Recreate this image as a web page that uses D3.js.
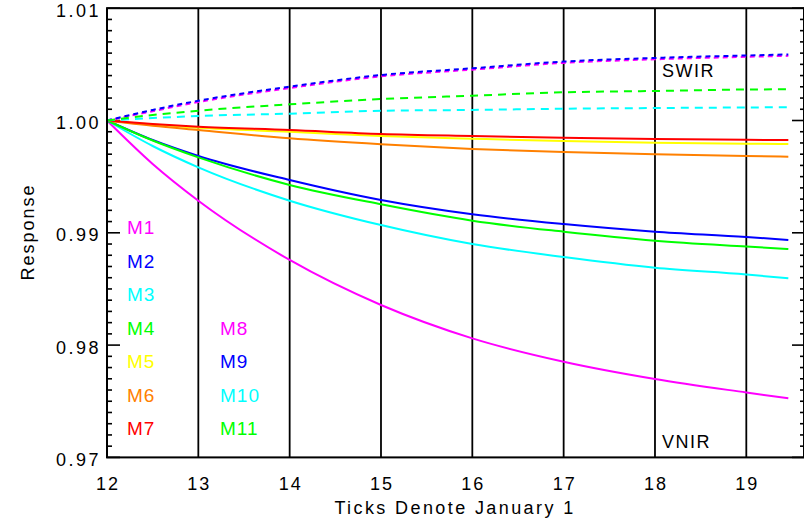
<!DOCTYPE html>
<html><head><meta charset="utf-8">
<script src="https://cdn.jsdelivr.net/npm/d3@7"></script>
<style>
html,body{margin:0;padding:0;background:#fff;}
svg{display:block;}
text{font-family:"Liberation Sans",Arial,sans-serif;}
</style></head>
<body>
<svg id="chart" width="804" height="522"></svg>
<script>
const years = [12, 12.5, 13, 14, 15, 16, 17, 18, 19, 19.46];
const M1  = [1, 0.99613, 0.99286, 0.98758, 0.98357, 0.98060, 0.97852, 0.97698, 0.97578, 0.97526];
const M2  = [1, 0.99826, 0.99684, 0.99470, 0.99292, 0.99165, 0.99078, 0.99010, 0.98963, 0.98936];
const M3  = [1, 0.99773, 0.99583, 0.99286, 0.99069, 0.98900, 0.98784, 0.98689, 0.98629, 0.98595];
const M4  = [1, 0.99822, 0.99672, 0.99426, 0.99254, 0.99108, 0.99010, 0.98930, 0.98878, 0.98856];
const M5  = [1, 0.99964, 0.99936, 0.99900, 0.99862, 0.99838, 0.99817, 0.99802, 0.99793, 0.99791];
const M6  = [1, 0.99953, 0.99915, 0.99841, 0.99788, 0.99746, 0.99719, 0.99699, 0.99684, 0.99678];
const M7  = [1, 0.99969, 0.99945, 0.99915, 0.99880, 0.99862, 0.99847, 0.99835, 0.99828, 0.99826];
const M8  = [1, 1.00083, 1.00164, 1.00289, 1.00393, 1.00453, 1.00513, 1.00545, 1.00567, 1.00576];
const M9  = [1, 1.00094, 1.00176, 1.00301, 1.00405, 1.00465, 1.00525, 1.00557, 1.00579, 1.00588];
const M10 = [1, 1.00022, 1.00040, 1.00061, 1.00087, 1.00094, 1.00105, 1.00111, 1.00116, 1.00118];
const M11 = [1, 1.00049, 1.00087, 1.00144, 1.00191, 1.00221, 1.00251, 1.00263, 1.00276, 1.00278];

const bandNames = ["M1","M2","M3","M4","M5","M6","M7","M8","M9","M10","M11"];
const bandValues = [M1,M2,M3,M4,M5,M6,M7,M8,M9,M10,M11];
const bandColors = ["#ff00ff","#0000ff","#00ffff","#00ff00","#ffff00","#ff8000","#ff0000",
                    "#ff00ff","#0000ff","#00ffff","#00ff00"];
const bandDash = [null,null,null,null,null,null,null,"5,4","5,4","8,6","8,6"];
const bandDashOffset = [0,0,0,0,0,0,0,1,0,0,0];
const xTicks = [12,13,14,15,16,17,18,19];
const yTicks = [0.97,0.98,0.99,1.00,1.01];
const yTickLabels = ["0.97","0.98","0.99","1.00","1.01"];

const svg = d3.select("#chart");
const L = 107, R = 804, T = 8.2, B = 457.4;
const x = d3.scaleLinear().domain([12, 12 + (R - L) / 91.33]).range([L, R]);
const y = d3.scaleLinear().domain([0.97, 1.01]).range([B, T]);

// vertical year lines (full height ticks)
const g = svg.append("g");
g.selectAll("line.grid").data(xTicks.slice(1)).enter().append("line")
  .attr("x1", d => x(d)).attr("x2", d => x(d)).attr("y1", T).attr("y2", B)
  .attr("stroke", "#000").attr("stroke-width", 1.8);

// minor y ticks
const minor = d3.range(0, 41).map(i => 0.97 + i * 0.001);
const isMajor = v => Math.abs(Math.round(v * 100) - v * 100) < 1e-6;
g.selectAll("line.ly").data(minor).enter().append("line")
  .attr("x1", L).attr("x2", d => L + (isMajor(d) ? 13 : 5))
  .attr("y1", d => y(d)).attr("y2", d => y(d))
  .attr("stroke", "#000").attr("stroke-width", 1.6);
g.selectAll("line.ry").data(minor).enter().append("line")
  .attr("x1", R).attr("x2", d => R - (isMajor(d) ? 12 : 4))
  .attr("y1", d => y(d)).attr("y2", d => y(d))
  .attr("stroke", "#000").attr("stroke-width", 1.6);

// lines
const line = d3.line().x(d => x(d[0])).y(d => y(d[1])).curve(d3.curveMonotoneX);
bandValues.forEach((vals, i) => {
  svg.append("path")
    .datum(years.map((yr, j) => [yr, vals[j]]))
    .attr("d", line)
    .attr("fill", "none")
    .attr("stroke", bandColors[i])
    .attr("stroke-width", 2)
    .attr("stroke-dasharray", bandDash[i])
    .attr("stroke-dashoffset", bandDashOffset[i]);
});

// frame
svg.append("rect").attr("x", L).attr("y", T).attr("width", R - L).attr("height", B - T)
  .attr("fill", "none").attr("stroke", "#000").attr("stroke-width", 2);

// tick labels
svg.selectAll("text.xt").data(xTicks).enter().append("text")
  .attr("x", d => x(d) + 1).attr("y", 490)
  .attr("text-anchor", "middle").attr("font-size", 18).attr("letter-spacing", 2)
  .text(d => d);
svg.selectAll("text.yt").data(yTicks).enter().append("text")
  .attr("x", 101).attr("y", d => y(d) + 8.5)
  .attr("text-anchor", "end").attr("font-size", 18).attr("letter-spacing", 2.5)
  .text((d, i) => yTickLabels[i]);

// axis titles
svg.append("text").attr("x", 455).attr("y", 514).attr("text-anchor", "middle")
  .attr("font-size", 18).attr("letter-spacing", 2.4).text("Ticks Denote January 1");
svg.append("text").attr("transform", "translate(34,232) rotate(-90)").attr("text-anchor", "middle")
  .attr("font-size", 18).attr("letter-spacing", 2).text("Response");

// legend labels
const legendPos = [[127,0],[127,1],[127,2],[127,3],[127,4],[127,5],[127,6],[220,3],[220,4],[220,5],[220,6]];
bandNames.forEach((n, i) => {
  svg.append("text").attr("x", legendPos[i][0]).attr("y", 234 + legendPos[i][1] * 33.5)
    .attr("font-size", 19).attr("letter-spacing", 1).attr("fill", bandColors[i]).text(n);
});

svg.append("text").attr("x", 662).attr("y", 77).attr("font-size", 18).attr("letter-spacing", 1.5).text("SWIR");
svg.append("text").attr("x", 662).attr("y", 448).attr("font-size", 18).attr("letter-spacing", 1.5).text("VNIR");
</script>
</body></html>
